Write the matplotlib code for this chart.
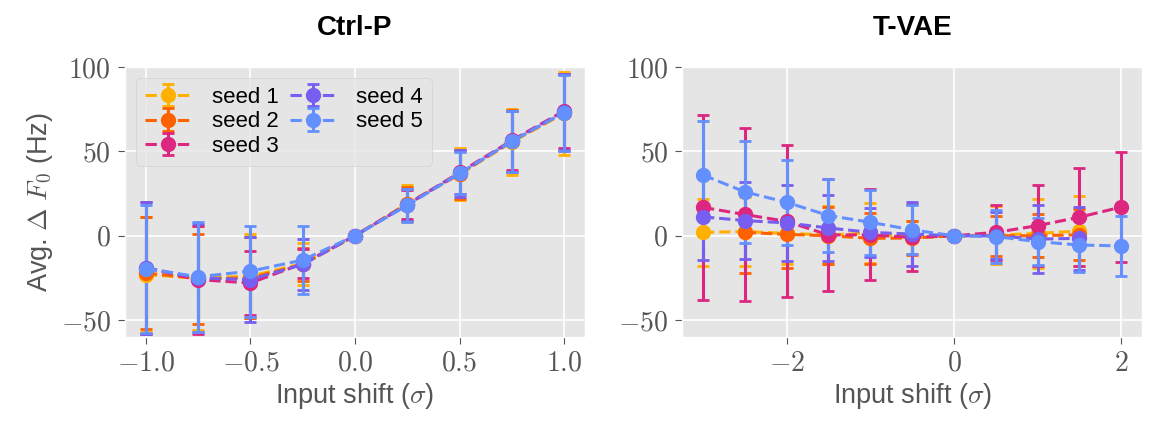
import matplotlib
matplotlib.use("Agg")
import matplotlib.pyplot as plt

plt.style.use("ggplot")
plt.rcParams["font.family"] = ["Liberation Sans", "DejaVu Sans"]
plt.rcParams["mathtext.fontset"] = "cm"

seed_labels = ["seed 1", "seed 2", "seed 3", "seed 4", "seed 5"]
colors = ["#FFB000", "#FE6100", "#DC267F", "#785EF0", "#648FFF"]

# ---- Ctrl-P ----
ctrlp_x = [-1.0, -0.75, -0.5, -0.25, 0.0, 0.25, 0.5, 0.75, 1.0]
ctrlp_mean = [
    [-23, -25, -24, -16.5, 0, 19, 36.5, 55.5, 72.5],
    [-22, -25.5, -25, -17, 0, 19, 36.5, 56, 73],
    [-19, -26, -28, -16.5, 0, 18.5, 37.5, 56.5, 74],
    [-19, -25, -26, -17, 0, 18.5, 37, 56, 73.5],
    [-19.5, -24.3, -21, -14.4, 0, 18, 37, 56, 73],
]
ctrlp_err = [
    [34, 31, 25, 12.5, 0, 11, 15.5, 19.5, 24.5],
    [33, 26.5, 24, 10, 0, 10, 14.5, 18.5, 23],
    [39, 32, 19, 8.5, 0, 8.5, 12.5, 17.5, 22],
    [39, 32, 25, 15, 0, 9.5, 14, 18, 22.5],
    [38, 32.7, 27, 20, 0, 10, 12.5, 18, 22.5],
]

# ---- T-VAE ----
tvae_x = [
    [-3, -2.5, -2, -1.5, -1, -0.5, 0, 0.5, 1, 1.5],
    [-2.5, -2, -1.5, -1, -0.5, 0, 0.5, 1, 1.5],
    [-3, -2.5, -2, -1.5, -1, -0.5, 0, 0.5, 1, 1.5, 2],
    [-3, -2.5, -2, -1.5, -1, -0.5, 0, 0.5, 1, 1.5],
    [-3, -2.5, -2, -1.5, -1, -0.5, 0, 0.5, 1, 1.5, 2],
]
tvae_mean = [
    [2, 2.5, 1.4, 0.5, 1.6, -1, 0, 0.4, 1.4, 2.8],
    [2, 0.8, 0, -1.5, -1.4, 0, 0, 0, 0.6],
    [16.8, 12.6, 8.5, 0.5, 0.5, -1, 0, 2, 6, 11, 17],
    [11.2, 9, 7.6, 4.6, 2, 1, 0, 0, -2, -1.5],
    [36, 26, 19.8, 12, 8, 3.5, 0, -0.5, -3.5, -5.5, -6],
]
tvae_err = [
    [20, 20.5, 18, 17, 18, 10, 0, 17, 20.6, 21],
    [24, 20, 17, 15, 10, 0, 12, 12.8, 15],
    [55, 51, 45, 33, 27, 20, 0, 16.5, 24, 29, 32.5],
    [25.6, 23, 22.7, 19.4, 14.5, 19, 0, 14, 20, 18.5],
    [32, 30, 25, 21.7, 19.4, 14.5, 0, 15.5, 14, 15.8, 17.7],
]

left_xticks = [-1.0, -0.5, 0.0, 0.5, 1.0]
right_xticks = [-2, 0, 2]
yticks = [-50, 0, 50, 100]

fig = plt.figure(figsize=(11.7, 4.23), dpi=100)
ax1 = fig.add_axes([0.1068, 0.2033, 0.3932, 0.6383])
ax2 = fig.add_axes([0.5830, 0.2033, 0.3932, 0.6383])

style = dict(fmt="o--", markersize=10, linewidth=2.2, elinewidth=2.2,
             capsize=4.5, capthick=2)

for i in range(5):
    ax1.errorbar(ctrlp_x, ctrlp_mean[i], yerr=ctrlp_err[i], color=colors[i],
                 label=seed_labels[i], **style)
    ax2.errorbar(tvae_x[i], tvae_mean[i], yerr=tvae_err[i], color=colors[i],
                 label=seed_labels[i], **style)

for ax, xt, fmt in [(ax1, left_xticks, "${:.1f}$"), (ax2, right_xticks, "${:d}$")]:
    ax.set_xticks(xt)
    ax.set_xticklabels([fmt.format(t) for t in xt])
    ax.set_yticks(yticks)
    ax.set_yticklabels(["${:d}$".format(t) for t in yticks])
    ax.set_ylim(-60, 100)
    ax.tick_params(labelsize=20, colors="#555555", labelcolor="#555555", length=5, pad=5)
    ax.set_xlabel(r"Input shift ($\sigma$)", fontsize=19.5, color="#555555", labelpad=3)
    ax.grid(True, color="white", linewidth=1.2)
    ax.set_axisbelow(True)

ax1.set_xlim(-1.1, 1.1)
ax2.set_xlim(-3.25, 2.25)
ax1.set_ylabel(r"Avg. $\Delta$ $F_0$ (Hz)", fontsize=19.5, color="#555555")
ax1.set_title("Ctrl-P", fontsize=20, fontweight="bold", pad=23)
ax2.set_title("T-VAE", fontsize=20, fontweight="bold", pad=23)

leg = ax1.legend(loc="upper left", ncol=2, fontsize=16, labelspacing=0.15,
                 handlelength=2.1, handletextpad=0.9, columnspacing=0.5,
                 borderpad=0.4, framealpha=0.8)

fig.savefig("out.png", dpi=100)
